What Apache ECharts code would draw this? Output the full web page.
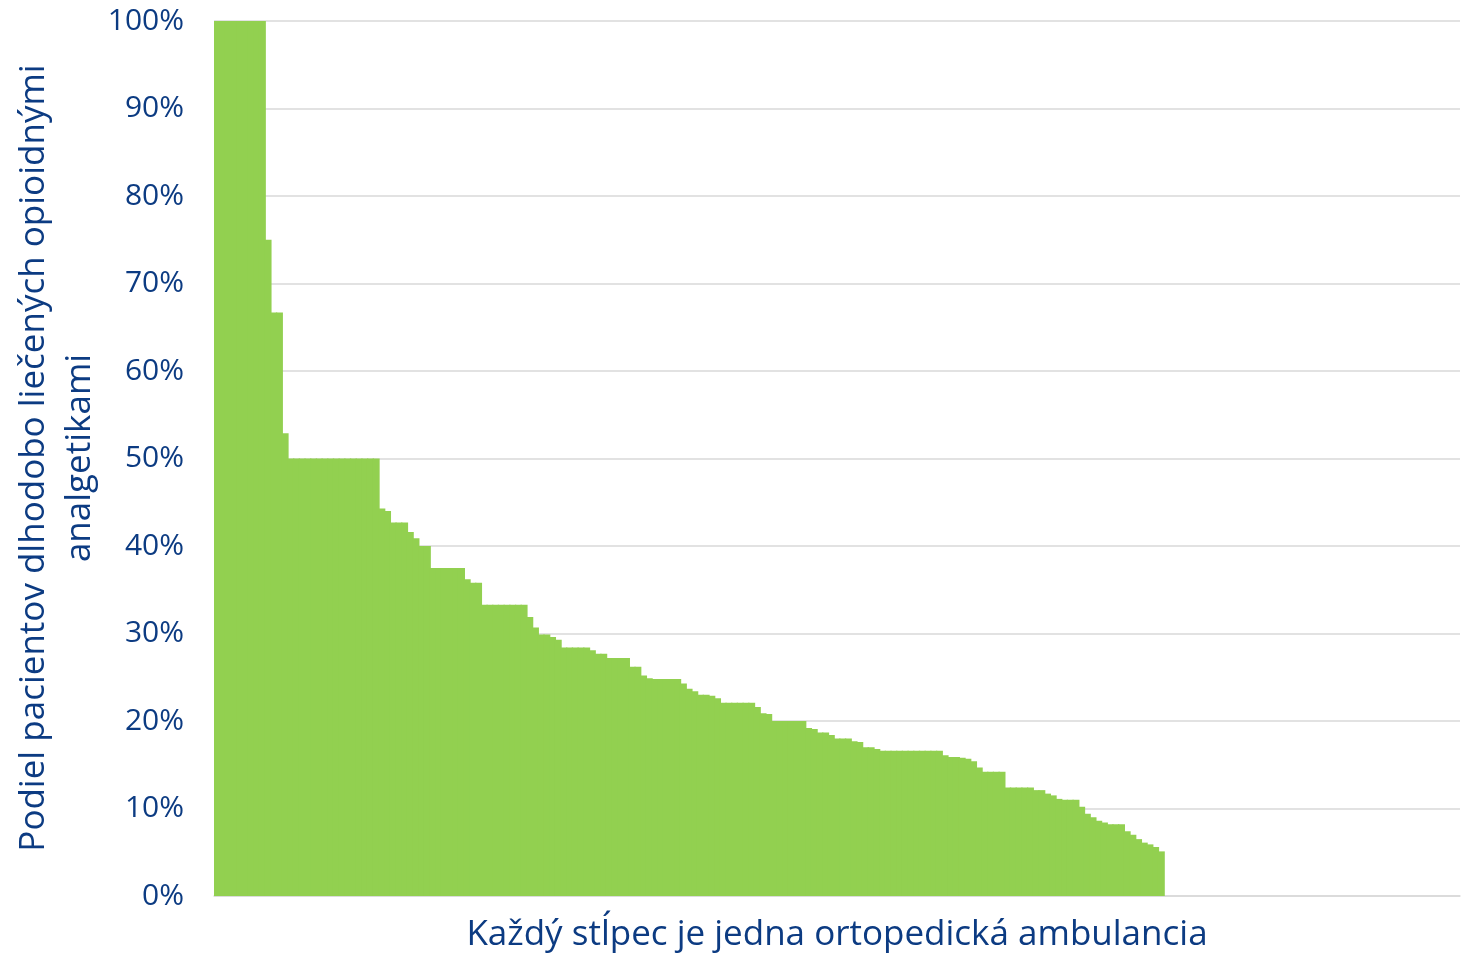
<!DOCTYPE html>
<html>
<head>
<meta charset="utf-8">
<script src="https://cdn.jsdelivr.net/npm/echarts@6/dist/echarts.min.js"></script>
<style>
html,body{margin:0;padding:0;background:#fff;}
#c{width:1470px;height:959px;}
</style>
</head>
<body>
<div id="c"></div>
<script>
// Share of long-term opioid-treated patients per orthopedic clinic (%), sorted descending
const values = [
  100,100,100,100,100,100,100,100,100,
  75,66.7,66.7,52.9,
  50,50,50,50,50,50,50,50,50,50,50,50,50,50,50,50,
  44.3,44.0,42.7,42.7,42.7,41.6,40.9,40.0,40.0,
  37.5,37.5,37.5,37.5,37.5,37.5,36.2,35.8,35.8,
  33.3,33.3,33.3,33.3,33.3,33.3,33.3,33.3,
  31.9,30.7,29.9,29.9,29.6,29.3,28.4,28.4,28.4,28.4,28.4,
  28.1,27.7,27.7,27.2,27.2,27.2,27.2,26.2,26.2,25.2,24.9,
  24.8,24.8,24.8,24.8,24.8,24.3,23.7,23.4,23.0,23.0,22.9,22.6,
  22.1,22.1,22.1,22.1,22.1,22.1,21.6,
  20.9,20.8,20.0,20.0,20.0,20.0,20.0,20.0,19.2,19.1,18.7,18.7,18.4,
  18.0,18.0,18.0,17.7,17.6,17.0,17.0,16.8,
  16.6,16.6,16.6,16.6,16.6,16.6,16.6,16.6,16.6,16.6,16.6,
  16.1,15.9,15.9,15.8,15.7,15.4,14.7,
  14.2,14.2,14.2,14.2,12.4,12.4,12.4,12.4,12.4,12.1,12.1,11.7,11.5,11.1,
  11.0,11.0,11.0,10.2,9.4,9.0,8.6,8.4,8.2,8.2,8.2,
  7.4,7.0,6.5,6.1,5.9,5.6,5.1
];
// category slots on the axis (219 slots, the remaining ones are empty)
const categoryCount = 219;
const categories = [];
for (let i = 1; i <= categoryCount; i++) categories.push(String(i));
const yTicks = [0,10,20,30,40,50,60,70,80,90,100];
const yTitle = 'Podiel pacientov dlhodobo liečených opioidnými\nanalgetikami';
const xTitle = 'Každý stĺpec je jedna ortopedická ambulancia';

const textColor = '#0c3b82';
const font = '"Open Sans", Lato, sans-serif';

const chart = echarts.init(document.getElementById('c'), null, {renderer:'canvas'});
chart.setOption({
  animation:false,
  backgroundColor:'#ffffff',
  grid:{left:214, right:10, top:21, bottom:63, containLabel:false, outerBoundsMode:'none'},
  graphic:[{
    type:'text',
    x:57, y:458,
    rotation:Math.PI/2,
    silent:true,
    style:{
      text:yTitle,
      fill:textColor,
      font:'35px "Open Sans", Lato, sans-serif',
      lineHeight:46,
      textAlign:'center',
      textVerticalAlign:'middle',
      align:'center',
      verticalAlign:'middle'
    }
  }],
  xAxis:{
    type:'category',
    data:categories,
    boundaryGap:true,
    axisTick:{show:false},
    axisLabel:{show:false},
    axisLine:{show:true, lineStyle:{color:'#d9d9d9', width:1.5}},
    name:xTitle,
    nameLocation:'middle',
    nameGap:22,
    nameTextStyle:{color:textColor, fontSize:35, fontFamily:font, verticalAlign:'top'}
  },
  yAxis:{
    type:'value',
    min:0, max:100, interval:10,
    axisLine:{show:false},
    axisTick:{show:false},
    splitLine:{show:true, lineStyle:{color:'#d9d9d9', width:1.5}},
    axisLabel:{
      color:textColor, fontSize:30, fontFamily:font, margin:30,
      formatter:function(v){ return yTicks.indexOf(v) >= 0 ? v + '%' : ''; }
    }
  },
  series:[{
    type:'bar',
    data:values,
    barGap:'0%',
    barWidth:7,
    itemStyle:{color:'#92D050'},
    silent:true
  }]
});
</script>
</body>
</html>
